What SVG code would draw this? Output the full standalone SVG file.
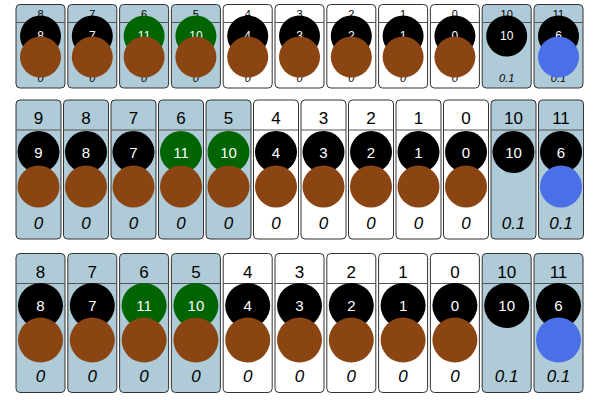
<svg xmlns="http://www.w3.org/2000/svg" width="600" height="400" viewBox="0 0 600 400">
<style>
text{font-family:"Liberation Sans",Arial,sans-serif;text-anchor:middle}
.card{stroke:#333;stroke-width:1}
.b{fill:#afcbd7}.w{fill:#fff}
.hl{stroke:#555;stroke-width:1}
.hd{fill:#000}
.v{font-style:italic;fill:#000}
.k{fill:#000}.g{fill:#006400}.br{fill:#8b4513}.bl{fill:#4a6fe6}
.ct{fill:#fff}
.s1 .hd,.s1 .v{font-size:11px}.s1 .ct{font-size:12px}
.s2 .hd,.s2 .v{font-size:17px}.s2 .ct{font-size:15px}
.s3 .hd,.s3 .v{font-size:17px}.s3 .ct{font-size:15px}
</style>
<defs>
<g id="t1b"><rect class="card b" x="0" y="0" width="49" height="83.5" rx="4"/><line class="hl" x1="0" y1="18" x2="49" y2="18"/></g>
<g id="t1w"><rect class="card w" x="0" y="0" width="49" height="83.5" rx="4"/><line class="hl" x1="0" y1="18" x2="49" y2="18"/></g>
<g id="t2b"><rect class="card b" x="0" y="0" width="45" height="139" rx="4"/><line class="hl" x1="0" y1="30" x2="45" y2="30"/></g>
<g id="t2w"><rect class="card w" x="0" y="0" width="45" height="139" rx="4"/><line class="hl" x1="0" y1="30" x2="45" y2="30"/></g>
<g id="t3b"><rect class="card b" x="0" y="0" width="49" height="139" rx="4"/><line class="hl" x1="0" y1="30" x2="49" y2="30"/></g>
<g id="t3w"><rect class="card w" x="0" y="0" width="49" height="139" rx="4"/><line class="hl" x1="0" y1="30" x2="49" y2="30"/></g>
</defs>

<g id="row1" class="s1">
<g id="r1-8" transform="translate(16,4.5)"><use href="#t1b"/><text class="hd" x="24.5" y="13">8</text><text class="v" x="24.5" y="77.5">0</text><circle class="k" cx="24.5" cy="31.5" r="20.5"/><text class="ct" x="24.5" y="35.5">8</text><circle class="br" cx="24.5" cy="52.5" r="20.5"/></g>
<g id="r1-7" transform="translate(67.8,4.5)"><use href="#t1b"/><text class="hd" x="24.5" y="13">7</text><text class="v" x="24.5" y="77.5">0</text><circle class="k" cx="24.5" cy="31.5" r="20.5"/><text class="ct" x="24.5" y="35.5">7</text><circle class="br" cx="24.5" cy="52.5" r="20.5"/></g>
<g id="r1-6" transform="translate(119.6,4.5)"><use href="#t1b"/><text class="hd" x="24.5" y="13">6</text><text class="v" x="24.5" y="77.5">0</text><circle class="g" cx="24.5" cy="31.5" r="20.5"/><text class="ct" x="24.5" y="35.5">11</text><circle class="br" cx="24.5" cy="52.5" r="20.5"/></g>
<g id="r1-5" transform="translate(171.4,4.5)"><use href="#t1b"/><text class="hd" x="24.5" y="13">5</text><text class="v" x="24.5" y="77.5">0</text><circle class="g" cx="24.5" cy="31.5" r="20.5"/><text class="ct" x="24.5" y="35.5">10</text><circle class="br" cx="24.5" cy="52.5" r="20.5"/></g>
<g id="r1-4" transform="translate(223.2,4.5)"><use href="#t1w"/><text class="hd" x="24.5" y="13">4</text><text class="v" x="24.5" y="77.5">0</text><circle class="k" cx="24.5" cy="31.5" r="20.5"/><text class="ct" x="24.5" y="35.5">4</text><circle class="br" cx="24.5" cy="52.5" r="20.5"/></g>
<g id="r1-3" transform="translate(275,4.5)"><use href="#t1w"/><text class="hd" x="24.5" y="13">3</text><text class="v" x="24.5" y="77.5">0</text><circle class="k" cx="24.5" cy="31.5" r="20.5"/><text class="ct" x="24.5" y="35.5">3</text><circle class="br" cx="24.5" cy="52.5" r="20.5"/></g>
<g id="r1-2" transform="translate(326.8,4.5)"><use href="#t1w"/><text class="hd" x="24.5" y="13">2</text><text class="v" x="24.5" y="77.5">0</text><circle class="k" cx="24.5" cy="31.5" r="20.5"/><text class="ct" x="24.5" y="35.5">2</text><circle class="br" cx="24.5" cy="52.5" r="20.5"/></g>
<g id="r1-1" transform="translate(378.6,4.5)"><use href="#t1w"/><text class="hd" x="24.5" y="13">1</text><text class="v" x="24.5" y="77.5">0</text><circle class="k" cx="24.5" cy="31.5" r="20.5"/><text class="ct" x="24.5" y="35.5">1</text><circle class="br" cx="24.5" cy="52.5" r="20.5"/></g>
<g id="r1-0" transform="translate(430.4,4.5)"><use href="#t1w"/><text class="hd" x="24.5" y="13">0</text><text class="v" x="24.5" y="77.5">0</text><circle class="k" cx="24.5" cy="31.5" r="20.5"/><text class="ct" x="24.5" y="35.5">0</text><circle class="br" cx="24.5" cy="52.5" r="20.5"/></g>
<g id="r1-10" transform="translate(482.2,4.5)"><use href="#t1b"/><text class="hd" x="24.5" y="13">10</text><text class="v" x="24.5" y="77.5">0.1</text><circle class="k" cx="24.5" cy="31.5" r="20.5"/><text class="ct" x="24.5" y="35.5">10</text></g>
<g id="r1-11" transform="translate(534,4.5)"><use href="#t1b"/><text class="hd" x="24.5" y="13">11</text><text class="v" x="24.5" y="77.5">0.1</text><circle class="k" cx="24.5" cy="31.5" r="20.5"/><text class="ct" x="24.5" y="35.5">6</text><circle class="bl" cx="24.5" cy="52.5" r="20.5"/></g>
</g>

<g id="row2" class="s2">
<g id="r2-9" transform="translate(16,100)"><use href="#t2b"/><text class="hd" x="22.5" y="24">9</text><text class="v" x="22.5" y="129">0</text><circle class="k" cx="22.5" cy="52" r="21"/><text class="ct" x="22.5" y="57.5">9</text><circle class="br" cx="22.5" cy="86.5" r="21"/></g>
<g id="r2-8" transform="translate(63.5,100)"><use href="#t2b"/><text class="hd" x="22.5" y="24">8</text><text class="v" x="22.5" y="129">0</text><circle class="k" cx="22.5" cy="52" r="21"/><text class="ct" x="22.5" y="57.5">8</text><circle class="br" cx="22.5" cy="86.5" r="21"/></g>
<g id="r2-7" transform="translate(111,100)"><use href="#t2b"/><text class="hd" x="22.5" y="24">7</text><text class="v" x="22.5" y="129">0</text><circle class="k" cx="22.5" cy="52" r="21"/><text class="ct" x="22.5" y="57.5">7</text><circle class="br" cx="22.5" cy="86.5" r="21"/></g>
<g id="r2-6" transform="translate(158.5,100)"><use href="#t2b"/><text class="hd" x="22.5" y="24">6</text><text class="v" x="22.5" y="129">0</text><circle class="g" cx="22.5" cy="52" r="21"/><text class="ct" x="22.5" y="57.5">11</text><circle class="br" cx="22.5" cy="86.5" r="21"/></g>
<g id="r2-5" transform="translate(206,100)"><use href="#t2b"/><text class="hd" x="22.5" y="24">5</text><text class="v" x="22.5" y="129">0</text><circle class="g" cx="22.5" cy="52" r="21"/><text class="ct" x="22.5" y="57.5">10</text><circle class="br" cx="22.5" cy="86.5" r="21"/></g>
<g id="r2-4" transform="translate(253.5,100)"><use href="#t2w"/><text class="hd" x="22.5" y="24">4</text><text class="v" x="22.5" y="129">0</text><circle class="k" cx="22.5" cy="52" r="21"/><text class="ct" x="22.5" y="57.5">4</text><circle class="br" cx="22.5" cy="86.5" r="21"/></g>
<g id="r2-3" transform="translate(301,100)"><use href="#t2w"/><text class="hd" x="22.5" y="24">3</text><text class="v" x="22.5" y="129">0</text><circle class="k" cx="22.5" cy="52" r="21"/><text class="ct" x="22.5" y="57.5">3</text><circle class="br" cx="22.5" cy="86.5" r="21"/></g>
<g id="r2-2" transform="translate(348.5,100)"><use href="#t2w"/><text class="hd" x="22.5" y="24">2</text><text class="v" x="22.5" y="129">0</text><circle class="k" cx="22.5" cy="52" r="21"/><text class="ct" x="22.5" y="57.5">2</text><circle class="br" cx="22.5" cy="86.5" r="21"/></g>
<g id="r2-1" transform="translate(396,100)"><use href="#t2w"/><text class="hd" x="22.5" y="24">1</text><text class="v" x="22.5" y="129">0</text><circle class="k" cx="22.5" cy="52" r="21"/><text class="ct" x="22.5" y="57.5">1</text><circle class="br" cx="22.5" cy="86.5" r="21"/></g>
<g id="r2-0" transform="translate(443.5,100)"><use href="#t2w"/><text class="hd" x="22.5" y="24">0</text><text class="v" x="22.5" y="129">0</text><circle class="k" cx="22.5" cy="52" r="21"/><text class="ct" x="22.5" y="57.5">0</text><circle class="br" cx="22.5" cy="86.5" r="21"/></g>
<g id="r2-10" transform="translate(491,100)"><use href="#t2b"/><text class="hd" x="22.5" y="24">10</text><text class="v" x="22.5" y="129">0.1</text><circle class="k" cx="22.5" cy="52" r="21"/><text class="ct" x="22.5" y="57.5">10</text></g>
<g id="r2-11" transform="translate(538.5,100)"><use href="#t2b"/><text class="hd" x="22.5" y="24">11</text><text class="v" x="22.5" y="129">0.1</text><circle class="k" cx="22.5" cy="52" r="21"/><text class="ct" x="22.5" y="57.5">6</text><circle class="bl" cx="22.5" cy="86.5" r="21"/></g>
</g>

<g id="row3" class="s3">
<g id="r3-8" transform="translate(16,253.5)"><use href="#t3b"/><text class="hd" x="24.5" y="24.5">8</text><text class="v" x="24.5" y="128.5">0</text><circle class="k" cx="24.5" cy="52" r="22.5"/><text class="ct" x="24.5" y="57.5">8</text><circle class="br" cx="24.5" cy="86.5" r="22.5"/></g>
<g id="r3-7" transform="translate(67.8,253.5)"><use href="#t3b"/><text class="hd" x="24.5" y="24.5">7</text><text class="v" x="24.5" y="128.5">0</text><circle class="k" cx="24.5" cy="52" r="22.5"/><text class="ct" x="24.5" y="57.5">7</text><circle class="br" cx="24.5" cy="86.5" r="22.5"/></g>
<g id="r3-6" transform="translate(119.6,253.5)"><use href="#t3b"/><text class="hd" x="24.5" y="24.5">6</text><text class="v" x="24.5" y="128.5">0</text><circle class="g" cx="24.5" cy="52" r="22.5"/><text class="ct" x="24.5" y="57.5">11</text><circle class="br" cx="24.5" cy="86.5" r="22.5"/></g>
<g id="r3-5" transform="translate(171.4,253.5)"><use href="#t3b"/><text class="hd" x="24.5" y="24.5">5</text><text class="v" x="24.5" y="128.5">0</text><circle class="g" cx="24.5" cy="52" r="22.5"/><text class="ct" x="24.5" y="57.5">10</text><circle class="br" cx="24.5" cy="86.5" r="22.5"/></g>
<g id="r3-4" transform="translate(223.2,253.5)"><use href="#t3w"/><text class="hd" x="24.5" y="24.5">4</text><text class="v" x="24.5" y="128.5">0</text><circle class="k" cx="24.5" cy="52" r="22.5"/><text class="ct" x="24.5" y="57.5">4</text><circle class="br" cx="24.5" cy="86.5" r="22.5"/></g>
<g id="r3-3" transform="translate(275,253.5)"><use href="#t3w"/><text class="hd" x="24.5" y="24.5">3</text><text class="v" x="24.5" y="128.5">0</text><circle class="k" cx="24.5" cy="52" r="22.5"/><text class="ct" x="24.5" y="57.5">3</text><circle class="br" cx="24.5" cy="86.5" r="22.5"/></g>
<g id="r3-2" transform="translate(326.8,253.5)"><use href="#t3w"/><text class="hd" x="24.5" y="24.5">2</text><text class="v" x="24.5" y="128.5">0</text><circle class="k" cx="24.5" cy="52" r="22.5"/><text class="ct" x="24.5" y="57.5">2</text><circle class="br" cx="24.5" cy="86.5" r="22.5"/></g>
<g id="r3-1" transform="translate(378.6,253.5)"><use href="#t3w"/><text class="hd" x="24.5" y="24.5">1</text><text class="v" x="24.5" y="128.5">0</text><circle class="k" cx="24.5" cy="52" r="22.5"/><text class="ct" x="24.5" y="57.5">1</text><circle class="br" cx="24.5" cy="86.5" r="22.5"/></g>
<g id="r3-0" transform="translate(430.4,253.5)"><use href="#t3w"/><text class="hd" x="24.5" y="24.5">0</text><text class="v" x="24.5" y="128.5">0</text><circle class="k" cx="24.5" cy="52" r="22.5"/><text class="ct" x="24.5" y="57.5">0</text><circle class="br" cx="24.5" cy="86.5" r="22.5"/></g>
<g id="r3-10" transform="translate(482.2,253.5)"><use href="#t3b"/><text class="hd" x="24.5" y="24.5">10</text><text class="v" x="24.5" y="128.5">0.1</text><circle class="k" cx="24.5" cy="52" r="22.5"/><text class="ct" x="24.5" y="57.5">10</text></g>
<g id="r3-11" transform="translate(534,253.5)"><use href="#t3b"/><text class="hd" x="24.5" y="24.5">11</text><text class="v" x="24.5" y="128.5">0.1</text><circle class="k" cx="24.5" cy="52" r="22.5"/><text class="ct" x="24.5" y="57.5">6</text><circle class="bl" cx="24.5" cy="86.5" r="22.5"/></g>
</g>
</svg>
